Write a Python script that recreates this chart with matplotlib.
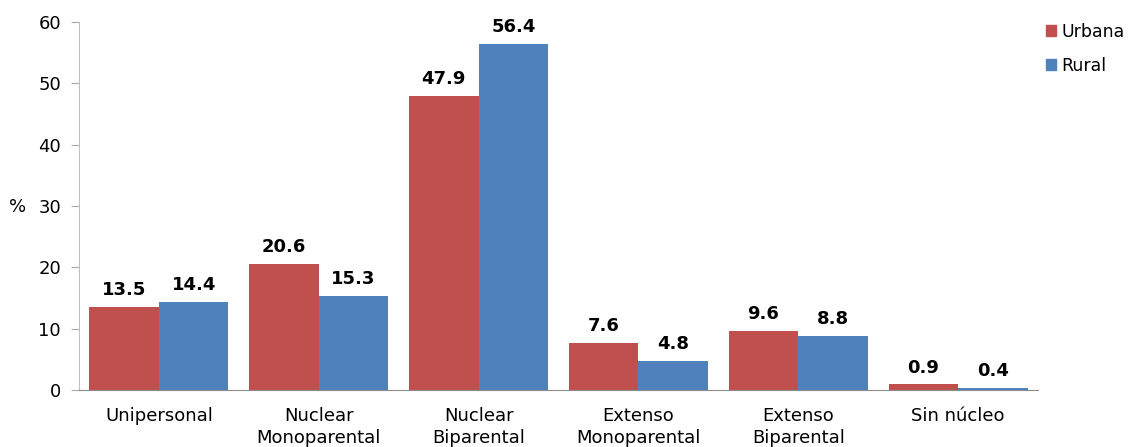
import matplotlib
matplotlib.use("Agg")
import matplotlib.pyplot as plt
import numpy as np
from matplotlib.patches import Patch

categories = ["Unipersonal", "Nuclear\nMonoparental", "Nuclear\nBiparental",
              "Extenso\nMonoparental", "Extenso\nBiparental", "Sin núcleo"]
urbana = [13.5, 20.6, 47.9, 7.6, 9.6, 0.9]
rural = [14.4, 15.3, 56.4, 4.8, 8.8, 0.4]
yticks = [0, 10, 20, 30, 40, 50, 60]

RED = "#C0504D"
BLUE = "#4F81BD"

plt.rcParams['font.family'] = ['DejaVu Sans']
fig = plt.figure(figsize=(11.32, 4.47), dpi=100)
ax = fig.add_axes([79/1132, 1 - 390/447, (1038-79)/1132, (390-22)/447])

x = np.arange(len(categories))
w = 0.435
b1 = ax.bar(x - w/2, urbana, w, color=RED)
b2 = ax.bar(x + w/2, rural, w, color=BLUE)

for bars, vals in ((b1, urbana), (b2, rural)):
    for r, v in zip(bars, vals):
        ax.text(r.get_x() + r.get_width()/2, v + 1.3, f"{v:.1f}",
                ha="center", va="bottom", fontsize=13, fontweight="bold")

ax.set_xlim(-0.5, len(categories) - 0.5)
ax.set_ylim(0, 60)
ax.set_yticks(yticks)
ax.set_xticks(x)
ax.set_xticklabels(categories, fontsize=13, linespacing=1.3)
ax.tick_params(axis="x", length=0, pad=12)
ax.tick_params(axis="y", length=6, color="#A6A6A6", labelsize=13, pad=7)
for s in ("top", "right"):
    ax.spines[s].set_visible(False)
ax.spines["left"].set_color("#BFBFBF")
ax.spines["bottom"].set_color("#8C8C8C")

fig.text(18/1132, 1 - 207/447, "%", fontsize=13, ha="center", va="center")

handles = [Patch(color=RED, label="Urbana"), Patch(color=BLUE, label="Rural")]
fig.legend(handles=handles, loc="upper left", bbox_to_anchor=(1039/1132, 1 - 16/447),
           frameon=False, fontsize=12.5, handlelength=0.6, handleheight=0.6,
           handletextpad=0.3, labelspacing=0.9, borderaxespad=0)

fig.savefig("out.png", dpi=100)
